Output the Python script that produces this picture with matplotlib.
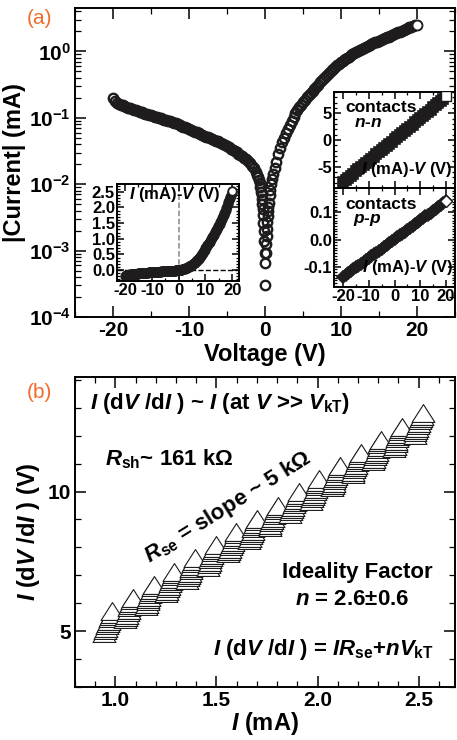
import numpy as np
import matplotlib
matplotlib.use("Agg")
import matplotlib.pyplot as plt
from matplotlib.path import Path
from matplotlib.ticker import MultipleLocator, FixedLocator, LogLocator, NullFormatter, FormatStrFormatter

plt.rcParams['font.family'] = 'Liberation Sans'
plt.rcParams['font.weight'] = 'bold'
plt.rcParams['axes.labelweight'] = 'bold'
plt.rcParams['axes.unicode_minus'] = False
plt.rcParams['mathtext.fontset'] = 'custom'
plt.rcParams['mathtext.rm'] = 'Liberation Sans:bold'
plt.rcParams['mathtext.it'] = 'Liberation Sans:italic:bold'
plt.rcParams['mathtext.bf'] = 'Liberation Sans:bold'
plt.rcParams['axes.linewidth'] = 1.4

# ---- (a) |I|-V sweep, log10 of |I| in mA
v_neg = np.arange(-20, -1.0, 0.25)
logi_neg = [-0.700, -0.740, -0.770, -0.790, -0.800, -0.813, -0.825, -0.838,
            -0.850, -0.860, -0.870, -0.880, -0.890, -0.900, -0.910, -0.920,
            -0.930, -0.939, -0.948, -0.956, -0.965, -0.974, -0.983, -0.991,
            -1.000, -1.009, -1.018, -1.026, -1.035, -1.045, -1.055, -1.065,
            -1.075, -1.086, -1.097, -1.108, -1.120, -1.132, -1.145, -1.157,
            -1.170, -1.182, -1.195, -1.207, -1.220, -1.232, -1.245, -1.257,
            -1.270, -1.282, -1.295, -1.307, -1.320, -1.332, -1.345, -1.357,
            -1.370, -1.385, -1.400, -1.415, -1.430, -1.447, -1.465, -1.482,
            -1.500, -1.520, -1.540, -1.560, -1.580, -1.600, -1.625, -1.650,
            -1.680, -1.720, -1.760, -1.810]
v_mid = [-1.0, -0.9, -0.8, -0.7, -0.6, -0.5, -0.45, -0.4, -0.35, -0.3, -0.25,
         -0.2, -0.15, -0.1, -0.05, 0.0, 0.05, 0.1, 0.15, 0.2, 0.25, 0.3, 0.35,
         0.4, 0.45, 0.5, 0.6, 0.7, 0.8, 0.9, 1.0]
logi_mid = [-1.86, -1.89, -1.93, -1.98, -2.04, -2.12, -2.17, -2.23, -2.30,
            -2.38, -2.47, -2.58, -2.71, -2.86, -3.04, -3.52, -3.19, -3.04,
            -2.90, -2.78, -2.67, -2.57, -2.48, -2.41, -2.34, -2.28, -2.17,
            -2.08, -2.00, -1.92, -1.85]
v_pos = np.arange(1.25, 20.01, 0.25)
logi_pos = [-1.75, -1.66, -1.55, -1.45, -1.37, -1.30, -1.235, -1.17,
            -1.11, -1.05, -0.99, -0.93, -0.885, -0.84, -0.80, -0.76,
            -0.725, -0.69, -0.655, -0.62, -0.59, -0.56, -0.53, -0.50,
            -0.467, -0.435, -0.402, -0.37, -0.342, -0.315, -0.287, -0.26,
            -0.235, -0.21, -0.185, -0.16, -0.14, -0.12, -0.10, -0.08,
            -0.062, -0.045, -0.027, -0.01, 0.005, 0.02, 0.035, 0.05,
            0.065, 0.08, 0.095, 0.11, 0.122, 0.135, 0.147, 0.16,
            0.172, 0.185, 0.197, 0.21, 0.222, 0.235, 0.247, 0.26,
            0.272, 0.285, 0.297, 0.31, 0.322, 0.335, 0.347, 0.36,
            0.37, 0.38, 0.39, 0.40]

volt = np.concatenate([v_neg, v_mid, v_pos])
cur_abs = 10 ** np.array(logi_neg + logi_mid + logi_pos)
cur_signed = np.sign(volt) * cur_abs

# contacts insets
v_contact = np.arange(-20, 21, 1)
i_nn = [-7.9, -7.5, -7.1, -6.7, -6.3, -5.9, -5.5, -5.1, -4.7, -4.3, -3.9,
        -3.5, -3.1, -2.7, -2.3, -1.9, -1.5, -1.1, -0.7, -0.3, 0.1,
        0.5, 0.9, 1.3, 1.7, 2.1, 2.5, 2.9, 3.3, 3.7, 4.1,
        4.5, 4.9, 5.3, 5.7, 6.1, 6.5, 6.9, 7.3, 7.7, 8.2]
i_pp = [-0.138, -0.131, -0.124, -0.117, -0.110, -0.103, -0.096, -0.089,
        -0.082, -0.075, -0.069, -0.062, -0.055, -0.048, -0.041, -0.034,
        -0.027, -0.020, -0.013, -0.006, 0.001, 0.008, 0.015, 0.022, 0.029,
        0.036, 0.043, 0.050, 0.057, 0.064, 0.071, 0.078, 0.085, 0.092,
        0.099, 0.106, 0.113, 0.120, 0.127, 0.134, 0.141]

# ---- (b) I(dV/dI) vs I
b_current = [
    0.945, 0.949, 0.954, 0.958, 0.963, 0.967, 0.972, 0.976, 0.981, 0.985,
    1.047, 1.051, 1.056, 1.060, 1.065, 1.069, 1.074, 1.078, 1.083, 1.087,
    1.150, 1.154, 1.159, 1.163, 1.168, 1.172, 1.177, 1.181, 1.186, 1.190,
    1.252, 1.256, 1.261, 1.265, 1.270, 1.274, 1.279, 1.283, 1.288, 1.292,
    1.354, 1.358, 1.363, 1.367, 1.372, 1.376, 1.381, 1.385, 1.390, 1.394,
    1.457, 1.461, 1.466, 1.470, 1.475, 1.479, 1.484, 1.488, 1.493, 1.497,
    1.559, 1.563, 1.568, 1.572, 1.577, 1.581, 1.586, 1.590, 1.595, 1.599,
    1.661, 1.665, 1.670, 1.674, 1.679, 1.683, 1.688, 1.692, 1.697, 1.701,
    1.763, 1.767, 1.772, 1.776, 1.781, 1.785, 1.790, 1.794, 1.799, 1.803,
    1.866, 1.870, 1.875, 1.879, 1.884, 1.888, 1.893, 1.897, 1.902, 1.906,
    1.968, 1.972, 1.977, 1.981, 1.986, 1.990, 1.995, 1.999, 2.004, 2.008,
    2.070, 2.074, 2.079, 2.083, 2.088, 2.092, 2.097, 2.101, 2.106, 2.110,
    2.173, 2.177, 2.182, 2.186, 2.191, 2.195, 2.200, 2.204, 2.209, 2.213,
    2.275, 2.279, 2.284, 2.288, 2.293, 2.297, 2.302, 2.306, 2.311, 2.315,
    2.377, 2.381, 2.386, 2.390, 2.395, 2.399, 2.404, 2.408, 2.413, 2.417,
    2.480, 2.484, 2.489, 2.493, 2.498, 2.502, 2.507, 2.511, 2.516, 2.520]
b_idvdi = [
    4.950, 5.035, 5.120, 5.205, 5.290, 5.375, 5.460, 5.545, 5.630, 5.715,
    5.422, 5.507, 5.592, 5.677, 5.762, 5.847, 5.932, 6.017, 6.102, 6.187,
    5.895, 5.980, 6.065, 6.150, 6.235, 6.320, 6.405, 6.490, 6.575, 6.660,
    6.367, 6.452, 6.537, 6.622, 6.707, 6.792, 6.877, 6.962, 7.047, 7.132,
    6.839, 6.924, 7.009, 7.094, 7.179, 7.264, 7.349, 7.434, 7.519, 7.604,
    7.312, 7.397, 7.482, 7.567, 7.652, 7.737, 7.822, 7.907, 7.992, 8.077,
    7.784, 7.869, 7.954, 8.039, 8.124, 8.209, 8.294, 8.379, 8.464, 8.549,
    8.256, 8.341, 8.426, 8.511, 8.596, 8.681, 8.766, 8.851, 8.936, 9.021,
    8.728, 8.813, 8.898, 8.983, 9.068, 9.153, 9.238, 9.323, 9.408, 9.493,
    9.201, 9.286, 9.371, 9.456, 9.541, 9.626, 9.711, 9.796, 9.881, 9.966,
    9.673, 9.758, 9.843, 9.928, 10.013, 10.098, 10.183, 10.268, 10.353, 10.438,
    10.145, 10.230, 10.315, 10.400, 10.485, 10.570, 10.655, 10.740, 10.825, 10.910,
    10.618, 10.703, 10.788, 10.873, 10.958, 11.043, 11.128, 11.213, 11.298, 11.383,
    11.090, 11.175, 11.260, 11.345, 11.430, 11.515, 11.600, 11.685, 11.770, 11.855,
    11.562, 11.647, 11.732, 11.817, 11.902, 11.987, 12.072, 12.157, 12.242, 12.327,
    12.035, 12.120, 12.205, 12.290, 12.375, 12.460, 12.545, 12.630, 12.715, 12.800]

W, H = 457, 740
ORANGE = '#f26b2a'
INK = '#1e1c1d'


def box(l, t, r, b):
    return [l / W, 1 - b / H, (r - l) / W, (b - t) / H]


def style(ax, size, major=6, minor=3, pad=3):
    ax.tick_params(which='both', direction='in', top=True, right=True,
                   labelsize=size, pad=pad, width=1.1)
    ax.tick_params(which='major', length=major)
    ax.tick_params(which='minor', length=minor, width=0.9)


def sweep(ax, x, y, marker, ms, mew, face='none'):
    # dense markers, the final point drawn white-filled on top
    ax.plot(x, y, ls='none', marker=marker, ms=ms, mfc=face, mec=INK, mew=mew, zorder=2)
    ax.plot(x[-1:], y[-1:], ls='none', marker=marker, ms=ms, mfc='white', mec=INK,
            mew=1.0, zorder=3)


fig = plt.figure(figsize=(W / 100, H / 100), dpi=100)

# ===== panel (a)
ax1 = fig.add_axes(box(75, 8, 455, 317))
ax1.set_yscale('log')
sweep(ax1, volt, cur_abs, 'o', 6.8, 1.7)
ax1.set_xlim(-25, 25)
ax1.set_ylim(1e-4, 4.5)
ax1.xaxis.set_major_locator(FixedLocator([-20, -10, 0, 10, 20]))
ax1.xaxis.set_minor_locator(MultipleLocator(5))
ax1.yaxis.set_major_locator(LogLocator(base=10, numticks=10))
ax1.yaxis.set_minor_locator(LogLocator(base=10, subs=np.arange(2, 10), numticks=20))
ax1.yaxis.set_minor_formatter(NullFormatter())
style(ax1, 15, major=8, minor=4)
ax1.set_xlabel('Voltage (V)', fontsize=17, labelpad=2)
ax1.set_ylabel('|Current| (mA)', fontsize=17, labelpad=2)
fig.text(39 / W, 1 - 19 / H, '(a)', color=ORANGE, fontsize=15,
         fontweight='normal', ha='center', va='center')

# inset: linear I-V
ins1 = fig.add_axes(box(117, 184, 239, 281), zorder=3)
ins1.axvline(0, color='#888888', ls='--', lw=1.1, zorder=1)
ins1.axhline(0, color='black', ls='--', lw=1.0, zorder=1)
sweep(ins1, volt, cur_signed, 'o', 5.8, 1.6)
ins1.set_xlim(-23, 22.5)
ins1.set_ylim(-0.35, 2.75)
ins1.xaxis.set_major_locator(MultipleLocator(10))
ins1.xaxis.set_minor_locator(MultipleLocator(5))
ins1.yaxis.set_major_locator(MultipleLocator(0.5))
ins1.yaxis.set_minor_locator(MultipleLocator(0.1))
ins1.yaxis.set_major_formatter(FormatStrFormatter('%.1f'))
style(ins1, 12, major=5, minor=2.5, pad=1.5)
ins1.text(0.1, 0.89, r'$I$ (mA)-$V$ (V)', transform=ins1.transAxes,
          fontsize=12, va='center', ha='left', zorder=4)

# inset: n-n contacts
ins2 = fig.add_axes(box(334, 92, 455, 188), zorder=3)
sweep(ins2, v_contact, i_nn, 's', 6.5, 1.2, face=INK)
ins2.set_xlim(-23.5, 23.5)
ins2.set_ylim(-9, 9)
ins2.xaxis.set_major_locator(MultipleLocator(10))
ins2.xaxis.set_minor_locator(MultipleLocator(5))
ins2.yaxis.set_major_locator(MultipleLocator(5))
ins2.yaxis.set_minor_locator(MultipleLocator(1))
style(ins2, 12, major=5, minor=2.5, pad=1.5)
ins2.tick_params(labelbottom=False)
ins2.text(0.09, 0.84, 'contacts', transform=ins2.transAxes, fontsize=12.5,
          va='center', ha='left')
ins2.text(0.28, 0.68, r'$n$-$n$', transform=ins2.transAxes, fontsize=12.5,
          va='center', ha='center')
ins2.text(0.98, 0.19, r'$I$ (mA)-$V$ (V)', transform=ins2.transAxes,
          fontsize=12, va='center', ha='right', zorder=4)

# inset: p-p contacts
ins3 = fig.add_axes(box(334, 188, 455, 287), zorder=3)
sweep(ins3, v_contact, i_pp, 'D', 6.5, 1.2, face=INK)
ins3.set_xlim(-23.5, 23.5)
ins3.set_ylim(-0.175, 0.19)
ins3.xaxis.set_major_locator(MultipleLocator(10))
ins3.xaxis.set_minor_locator(MultipleLocator(5))
ins3.yaxis.set_major_locator(MultipleLocator(0.1))
ins3.yaxis.set_minor_locator(MultipleLocator(0.01))
ins3.yaxis.set_major_formatter(FormatStrFormatter('%.1f'))
style(ins3, 12, major=5, minor=2.5, pad=1.5)
ins3.text(0.09, 0.83, 'contacts', transform=ins3.transAxes, fontsize=12.5,
          va='center', ha='left')
ins3.text(0.28, 0.68, r'$p$-$p$', transform=ins3.transAxes, fontsize=12.5,
          va='center', ha='center')
ins3.text(0.99, 0.2, r'$I$ (mA)-$V$ (V)', transform=ins3.transAxes,
          fontsize=12, va='center', ha='right', zorder=4)

# ===== panel (b)
tri = Path([(0, 0.78), (-1, -0.78), (1, -0.78), (0, 0.78)],
           [Path.MOVETO, Path.LINETO, Path.LINETO, Path.CLOSEPOLY])
ax2 = fig.add_axes(box(75, 377, 455, 687))
ax2.plot(b_current, b_idvdi, ls='none', marker=tri, ms=16.5, mfc='white',
         mec=INK, mew=0.8)
ax2.set_xlim(0.8, 2.68)
ax2.set_ylim(3, 14.1)
ax2.xaxis.set_major_locator(MultipleLocator(0.5))
ax2.xaxis.set_minor_locator(MultipleLocator(0.1))
ax2.xaxis.set_major_formatter(FormatStrFormatter('%.1f'))
ax2.yaxis.set_major_locator(FixedLocator([5, 10]))
ax2.yaxis.set_minor_locator(MultipleLocator(1))
style(ax2, 15, major=8, minor=4)
ax2.set_xlabel(r'$I$ (mA)', fontsize=17, labelpad=0)
ax2.set_ylabel(r'$I$ (d$V$ /d$I$ ) (V)', fontsize=17, labelpad=4)
fig.text(39 / W, 1 - 393 / H, '(b)', color=ORANGE, fontsize=15,
         fontweight='normal', ha='center', va='center')

ax2.text(0.874, 13.14, r'$I$ (d$V$ /d$I$ ) ~ $I$ (at $V$ >> $V_{\rm kT}$)',
         fontsize=16, va='center', ha='left')
ax2.text(0.95, 11.17, r'$R_{\rm sh}$~ 161 kΩ', fontsize=16, va='center', ha='left')
ax2.text(1.557, 9.44, r'$R_{\rm se}$ = slope ~ 5 kΩ', fontsize=16,
         va='center', ha='center', rotation=32, rotation_mode='anchor')
ax2.text(2.196, 7.1, 'Ideality Factor', fontsize=16, va='center', ha='center')
ax2.text(2.171, 6.13, r'$n$ = 2.6±0.6', fontsize=16, va='center', ha='center')
ax2.text(2.575, 4.33, r'$I$ (d$V$ /d$I$ ) = $IR_{\rm se}$+$nV_{\rm kT}$',
         fontsize=16, va='center', ha='right')

fig.savefig('out.png', dpi=100)
